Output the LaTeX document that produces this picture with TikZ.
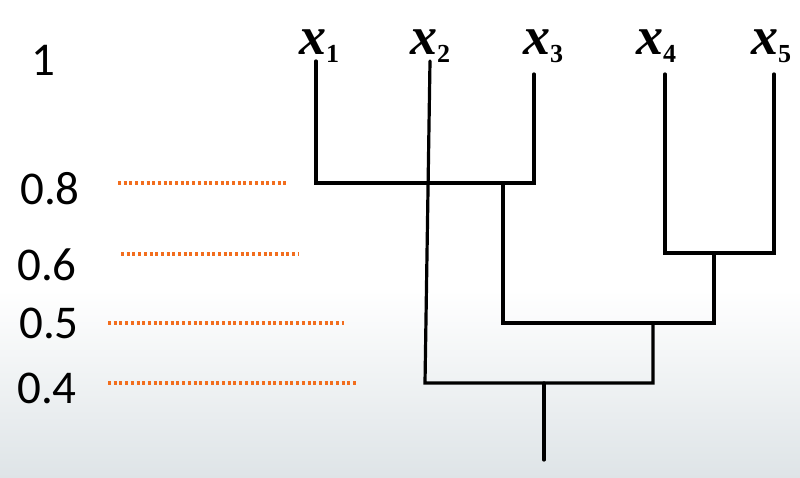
\documentclass[tikz,border=0pt]{standalone}
\usepackage{fontspec}
\newfontfamily\tnrfont{Liberation Serif}
\newfontfamily\carlitofont{Carlito}
\definecolor{dotorange}{RGB}{242,110,30}
\definecolor{bgc}{RGB}{222,228,231}
\newcommand{\lbl}[1]{{\fontsize{54}{54}\selectfont\tnrfont\bfseries\itshape x}\raisebox{-8pt}{\fontsize{26}{26}\selectfont\tnrfont\bfseries #1}}
\begin{document}
\begin{tikzpicture}[x=1pt,y=-1pt,
  tree/.style={line width=3.2pt, line cap=round, line join=miter},
  lev/.style={dotorange, line width=3.4pt, dash pattern=on 3pt off 2.7pt},
  num/.style={anchor=base west, inner sep=0pt, font=\fontsize{47}{47}\selectfont\carlitofont},
  leaf/.style={anchor=base west, inner sep=0pt}]
\useasboundingbox (0,0) rectangle (800,478);
\fill[white] (0,0) rectangle (800,478);
\shade[top color=white, bottom color=bgc] (0,290) rectangle (800,478);
% leaf labels
\node[leaf] (l1) at (299,55) {\lbl{1}};
\node[leaf] (l2) at (410,55) {\lbl{2}};
\node[leaf] (l3) at (523,55) {\lbl{3}};
\node[leaf] (l4) at (636,55) {\lbl{4}};
\node[leaf] (l5) at (751,55) {\lbl{5}};
% level labels
\node[num] (n1) at (31,76) {1};
\node[num] (n8) at (20,205) {0.8};
\node[num] (n6) at (17,280) {0.6};
\node[num] (n5) at (19,338) {0.5};
\node[num] (n4) at (17,403) {0.4};
% level dotted lines
\coordinate (d8a) at (118,183); \coordinate (d8b) at (288,183);
\coordinate (d6a) at (121,254); \coordinate (d6b) at (298,254);
\coordinate (d5a) at (108,323); \coordinate (d5b) at (344,323);
\coordinate (d4a) at (108,383); \coordinate (d4b) at (358,383);
\draw[lev] (d8a) -- (d8b);
\draw[lev] (d6a) -- (d6b);
\draw[lev] (d5a) -- (d5b);
\draw[lev] (d4a) -- (d4b);
% tree coordinates
\coordinate (t1) at (316,61); \coordinate (b1) at (316,183);
\coordinate (t2) at (430,61); \coordinate (b2) at (425,383);
\coordinate (t3) at (534,74); \coordinate (b3) at (534,183);
\coordinate (t4) at (665,74); \coordinate (b4) at (665,253);
\coordinate (t5) at (774,74); \coordinate (b5) at (774,253);
\coordinate (m13) at (503,183); \coordinate (m13d) at (503,323);
\coordinate (m45) at (714,253); \coordinate (m45d) at (714,323);
\coordinate (m1345) at (653,323); \coordinate (m1345d) at (653,383);
\coordinate (root) at (544,383); \coordinate (rootd) at (544,460);
\draw[tree] (t1) -- (b1) -- (b3) -- (t3);
\draw[tree] (t4) -- (b4) -- (b5) -- (t5);
\draw[tree] (m13) -- (m13d) -- (m45d) -- (m45);
\draw[tree] (t2) -- (b2) -- (m1345d) -- (m1345);
\draw[tree] (root) -- (rootd);
\end{tikzpicture}
\end{document}
